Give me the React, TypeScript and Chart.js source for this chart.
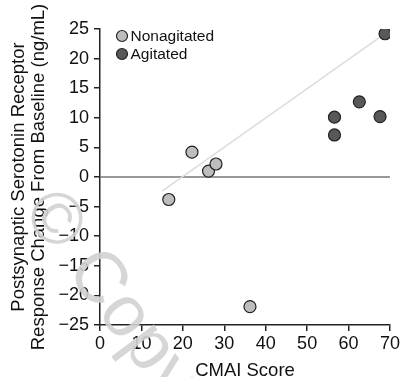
import React, { useEffect, useRef } from "react";
import { Chart, registerables } from "chart.js";

Chart.register(...registerables);

const nonagitatedX = [16.6, 22.2, 26.2, 28.0, 36.2];
const nonagitatedY = [-3.8, 4.2, 1.0, 2.2, -21.9];
const agitatedX = [68.8, 56.6, 56.6, 62.6, 67.6];
const agitatedY = [24.2, 10.1, 7.1, 12.7, 10.2];
const fitX = [15.0, 68.8];
const fitY = [-2.4, 24.2];
const zeroX = [0, 70];
const zeroY = [0, 0];
const xTicks = [0, 10, 20, 30, 40, 50, 60, 70];
const yTicks = [-25, -20, -15, -10, -5, 0, 5, 10, 15, 20, 25];
const legendLabels = ["Nonagitated", "Agitated"];
const legendColors = ["#bdbdbd", "#585858"];

const FONT = "'Liberation Sans', Arial, sans-serif";

const pts = (xs: number[], ys: number[]) => xs.map((x, i) => ({ x, y: ys[i] }));

const watermark = {
  id: "watermark",
  beforeDatasetsDraw(chart: any) {
    const ctx = chart.ctx;
    ctx.save();
    ctx.translate(37, 200);
    ctx.rotate((53 * Math.PI) / 180);
    ctx.font = `72px ${FONT}`;
    ctx.fillStyle = "rgba(210,210,210,0.9)";
    ctx.textBaseline = "middle";
    ctx.textAlign = "left";
    ctx.fillText("\u00A9 Copyright", 0, 0);
    ctx.restore();
  },
};

const legendPlugin = {
  id: "innerLegend",
  afterDatasetsDraw(chart: any) {
    const ctx = chart.ctx;
    ctx.save();
    const x0 = 122;
    const ys = [36, 54];
    legendLabels.forEach((label, i) => {
      ctx.beginPath();
      ctx.arc(x0, ys[i], 5.5, 0, Math.PI * 2);
      ctx.fillStyle = legendColors[i];
      ctx.fill();
      ctx.lineWidth = 1.2;
      ctx.strokeStyle = "#222";
      ctx.stroke();
      ctx.fillStyle = "#111";
      ctx.font = `15.5px ${FONT}`;
      ctx.textBaseline = "middle";
      ctx.textAlign = "left";
      ctx.fillText(label, x0 + 8.5, ys[i] + 1);
    });
    ctx.restore();
  },
};

export default function App() {
  const ref = useRef<HTMLCanvasElement | null>(null);
  useEffect(() => {
    if (!ref.current) return;
    const chart = new Chart(ref.current, {
      type: "scatter",
      data: {
        datasets: [
          {
            type: "line",
            label: "zero",
            data: pts(zeroX, zeroY),
            borderColor: "#777",
            borderWidth: 1.5,
            pointRadius: 0,
            order: 3,
          } as any,
          {
            type: "line",
            label: "fit",
            data: pts(fitX, fitY),
            borderColor: "#dcdcdc",
            borderWidth: 1.5,
            pointRadius: 0,
            order: 2,
          } as any,
          {
            label: legendLabels[0],
            data: pts(nonagitatedX, nonagitatedY),
            backgroundColor: legendColors[0],
            borderColor: "#222",
            borderWidth: 1.2,
            pointRadius: 6,
            order: 1,
          },
          {
            label: legendLabels[1],
            data: pts(agitatedX, agitatedY),
            backgroundColor: legendColors[1],
            borderColor: "#222",
            borderWidth: 1.2,
            pointRadius: 6,
            order: 0,
          },
        ],
      },
      options: {
        responsive: false,
        animation: false,
        layout: { padding: { top: 29, right: 10, left: 0, bottom: 0 } },
        plugins: { legend: { display: false }, tooltip: { enabled: false } },
        scales: {
          x: {
            type: "linear",
            min: 0,
            max: 70,
            afterBuildTicks: (s: any) => {
              s.ticks = xTicks.map((v) => ({ value: v }));
            },
            afterFit: (s: any) => {
              s.height = 52;
            },
            grid: { display: true, drawOnChartArea: false, drawTicks: true, tickLength: 6, color: "#222", lineWidth: 1.5 },
            border: { display: true, color: "#222", width: 1.5 },
            ticks: { color: "#111", font: { family: FONT, size: 18 }, padding: 2, maxRotation: 0 },
            title: {
              display: true,
              text: "CMAI Score",
              color: "#111",
              font: { family: FONT, size: 18.5, lineHeight: 1 },
              padding: { top: 0, bottom: -3 },
            },
          },
          y: {
            type: "linear",
            min: -25,
            max: 25,
            afterBuildTicks: (s: any) => {
              s.ticks = yTicks.map((v) => ({ value: v }));
            },
            afterFit: (s: any) => {
              s.width = 100;
            },
            grid: { display: true, drawOnChartArea: false, drawTicks: true, tickLength: 6, color: "#222", lineWidth: 1.5 },
            border: { display: true, color: "#222", width: 1.5 },
            ticks: {
              color: "#111",
              font: { family: FONT, size: 18 },
              padding: 5,
              callback: (v: any) => String(v).replace("-", "\u2212"),
            },
            title: {
              display: true,
              text: ["Postsynaptic Serotonin Receptor", "Response Change From Baseline (ng/mL)"],
              color: "#111",
              font: { family: FONT, size: 18.5, lineHeight: 1.08 },
              padding: { top: 9, bottom: 0 },
            },
          },
        },
      },
      plugins: [watermark, legendPlugin],
    });
    return () => chart.destroy();
  }, []);
  return (
    <div style={{ position: "absolute", left: 0, top: 0, width: 402, height: 377, background: "#fff" }}>
      <canvas ref={ref} width={402} height={377} style={{ display: "block" }} />
    </div>
  );
}
